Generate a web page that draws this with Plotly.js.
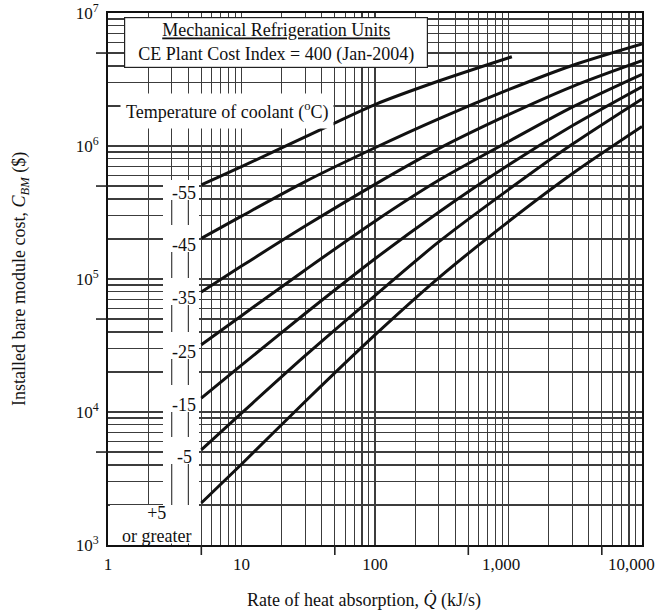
<!DOCTYPE html>
<html>
<head>
<meta charset="utf-8">
<script src="https://cdn.plot.ly/plotly-3.0.1.min.js"></script>
<style>html,body{margin:0;padding:0;background:#fff;}#chart{width:663px;height:614px;}</style>
</head>
<body>
<div id="chart"></div>
<script>
// ---- data ----
const seriesNames = ['-55', '-45', '-35', '-25', '-15', '-5', '+5'];
const q55 = [5, 10, 30, 100, 300, 1060];
const c55 = [5.1e5, 7.0e5, 1.17e6, 2.05e6, 3.08e6, 4.69e6];
const qAll = [5, 10, 30, 100, 300, 1000, 3000, 10000];
const c45 = [2.02e5, 2.97e5, 5.4e5, 9.7e5, 1.6e6, 2.65e6, 4.03e6, 5.85e6];
const c35 = [8.0e4, 1.25e5, 2.5e5, 5.15e5, 9.55e5, 1.72e6, 2.8e6, 4.38e6];
const c25 = [3.2e4, 5.3e4, 1.17e5, 2.72e5, 5.52e5, 1.08e6, 1.96e6, 3.46e6];
const c15 = [1.27e4, 2.25e4, 5.5e4, 1.42e5, 3.18e5, 7.2e5, 1.42e6, 2.79e6];
const c5m = [5.2e3, 9.8e3, 2.65e4, 7.5e4, 1.9e5, 4.7e5, 1.03e6, 2.26e6];
const c5p = [2.07e3, 4.05e3, 1.2e4, 3.8e4, 1.02e5, 2.7e5, 6.18e5, 1.4e6];

const xDecades = [1, 10, 100, 1000, 10000];
const xDecadeText = ['1', '10', '100', '1,000', '10,000'];
const yDecades = [1e3, 1e4, 1e5, 1e6, 1e7];
const yDecadeText = ['10<sup>3</sup>', '10<sup>4</sup>', '10<sup>5</sup>', '10<sup>6</sup>', '10<sup>7</sup>'];
const multipliers = [1, 2, 3, 4, 5, 6, 7, 8, 9];
const xOuterTicks = [5, 50, 500, 5000];
const yOuterTicks = [5e3, 5e4, 5e5, 5e6];

// labels of the two largest decades are drawn as annotations (set left of their gridline, as in the print)
const xShiftedLabelPix = {3: 501, 4: 631};

// ---- build grid tick lists ----
function gridList(decades, labels, skip) {
  const vals = [], text = [];
  decades.forEach((d, i) => {
    const lab = (skip && skip[i] !== undefined) ? ' ' : labels[i];
    if (i < decades.length - 1) {
      multipliers.forEach(m => { vals.push(d * m); text.push(m === 1 ? lab : ''); });
    } else { vals.push(d); text.push(lab); }
  });
  return {vals, text};
}
const gx = gridList(xDecades, xDecadeText, xShiftedLabelPix);
const gy = gridList(yDecades, yDecadeText, null);

const serif = 'Liberation Serif, Times New Roman, serif';
const ink = '#111';
const gridCol = '#3c3c3c';

const lineStyle = {color: '#111', width: 3, shape: 'spline', smoothing: 0.8};
const seriesX = [q55, qAll, qAll, qAll, qAll, qAll, qAll];
const seriesY = [c55, c45, c35, c25, c15, c5m, c5p];
const traces = seriesY.map((ys, i) => ({
  type: 'scatter', mode: 'lines', x: seriesX[i], y: ys, name: seriesNames[i],
  line: lineStyle, hoverinfo: 'x+y+name'
}));

// ---- layout helpers (pixel positions of the plot area) ----
const L = 108, R = 642, T = 13, B = 545;
const px = p => (p - L) / (R - L);
const py = p => 1 - (p - T) / (B - T);

const shapes = [];
// white column behind temperature labels
shapes.push({type: 'rect', xref: 'paper', yref: 'paper', x0: px(163), x1: px(199), y0: py(505), y1: py(180),
  fillcolor: '#fff', line: {width: 0}, layer: 'above'});
shapes.push({type: 'rect', xref: 'paper', yref: 'paper', x0: px(110), x1: px(199), y0: py(543.5), y1: py(505),
  fillcolor: '#fff', line: {width: 0}, layer: 'above'});
// vertical grid segments between labels
const labelPix = [193, 245, 298, 352, 405, 457];
const segEnds = labelPix.slice(1).map(c => c - 20).concat([505]);
[3, 4].forEach(xv => {
  labelPix.forEach((c, i) => {
    shapes.push({type: 'line', xref: 'x', yref: 'paper', x0: xv, x1: xv, y0: py(c + 7), y1: py(segEnds[i]),
      line: {color: gridCol, width: 1.2}, layer: 'above'});
  });
});
// outer tick marks
xOuterTicks.forEach(v => shapes.push({type: 'line', xref: 'x', yref: 'paper', x0: v, x1: v, y0: 0, y1: -10 / (B - T),
  line: {color: '#222', width: 1.6}}));
yOuterTicks.forEach(v => shapes.push({type: 'line', xref: 'paper', yref: 'y', y0: v, y1: v, x0: 0, x1: -12 / (R - L),
  line: {color: '#222', width: 1.6}}));

const annotations = [];
annotations.push({xref: 'paper', yref: 'paper', x: px(276), y: py(43), xanchor: 'center', yanchor: 'middle',
  text: '<u>Mechanical Refrigeration Units</u><br>CE Plant Cost Index = 400 (Jan-2004)',
  showarrow: false, font: {family: serif, size: 18, color: ink}, bgcolor: '#fff', bordercolor: '#222',
  borderwidth: 1.2, borderpad: 2, width: 298, height: 45});
annotations.push({xref: 'paper', yref: 'paper', x: px(227), y: py(111), xanchor: 'center', yanchor: 'middle',
  text: 'Temperature of coolant (<sup>o</sup>C)', showarrow: false,
  font: {family: serif, size: 18, color: ink}, bgcolor: '#fff', borderpad: 5});
seriesNames.slice(0, 6).forEach((n, i) => annotations.push({xref: 'paper', yref: 'paper', x: px(184), y: py(labelPix[i]),
  xanchor: 'center', yanchor: 'middle', text: n, showarrow: false, font: {family: serif, size: 18, color: ink}}));
annotations.push({xref: 'paper', yref: 'paper', x: px(156), y: py(524), xanchor: 'center', yanchor: 'middle',
  text: '+5<br>or greater', showarrow: false, font: {family: serif, size: 18, color: ink}});
Object.keys(xShiftedLabelPix).forEach(k => annotations.push({xref: 'paper', yref: 'paper', x: px(xShiftedLabelPix[k]), y: py(564),
  xanchor: 'center', yanchor: 'middle', text: xDecadeText[k], showarrow: false, font: {family: serif, size: 17, color: ink}}));
annotations.push({xref: 'paper', yref: 'paper', x: px(364), y: py(600), xanchor: 'center', yanchor: 'middle',
  text: 'Rate of heat absorption, <i>Q\u0307</i> (kJ/s)', showarrow: false, font: {family: serif, size: 18, color: ink}});
annotations.push({xref: 'paper', yref: 'paper', x: px(20), y: py(279), xanchor: 'center', yanchor: 'middle', textangle: -90,
  text: 'Installed bare module cost, <i>C<sub>BM</sub></i> ($)', showarrow: false, font: {family: serif, size: 18, color: ink}});

const axisCommon = {
  type: 'log', showgrid: true, gridcolor: gridCol, gridwidth: 1.2, zeroline: false,
  showline: true, mirror: true, linecolor: '#111', linewidth: 2, ticks: '',
  tickfont: {family: serif, size: 17, color: ink}, fixedrange: true
};

const layout = {
  width: 663, height: 614, margin: {l: L, r: 663 - R, t: T, b: 614 - B},
  paper_bgcolor: '#fff', plot_bgcolor: '#fff', showlegend: false,
  xaxis: Object.assign({}, axisCommon, {range: [0, 4], tickmode: 'array', tickvals: gx.vals, ticktext: gx.text, ticklabelstandoff: 3}),
  yaxis: Object.assign({}, axisCommon, {range: [3, 7], tickmode: 'array', tickvals: gy.vals, ticktext: gy.text, ticklabelstandoff: 4}),
  shapes: shapes, annotations: annotations
};

Plotly.newPlot('chart', traces, layout, {displayModeBar: false, staticPlot: true});
</script>
</body>
</html>
